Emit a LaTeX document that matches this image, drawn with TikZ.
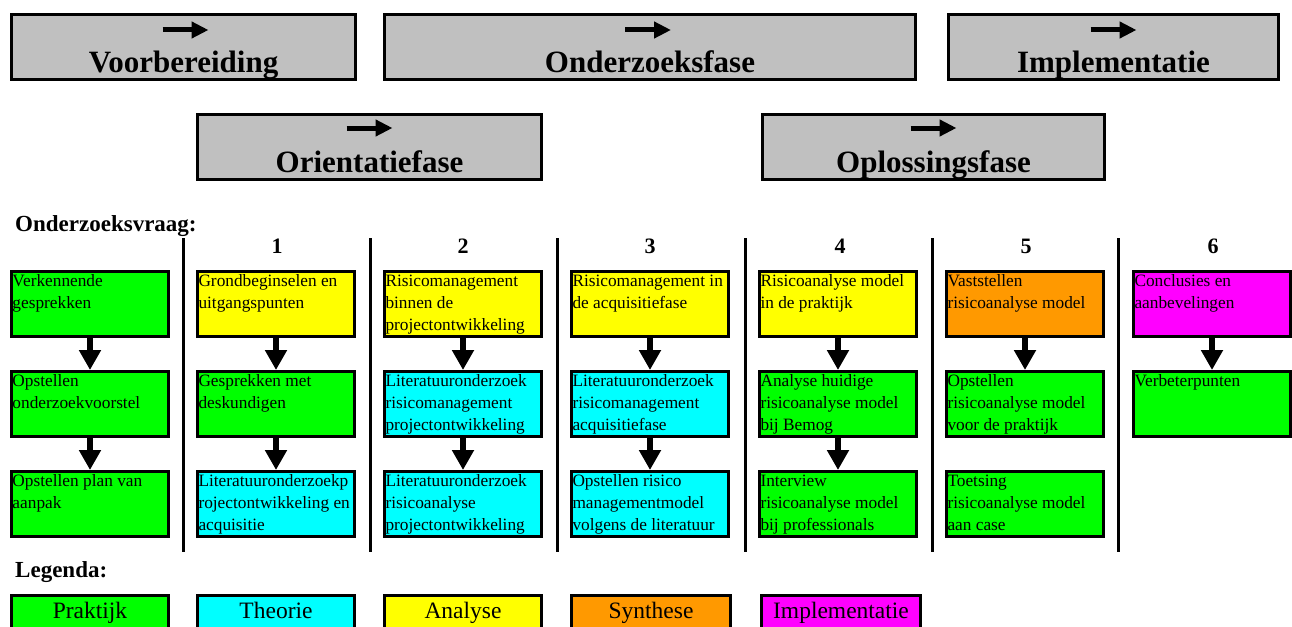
\documentclass[tikz,border=0pt]{standalone}
\usepackage{fontspec}
\setmainfont{Liberation Serif}
\usetikzlibrary{positioning,arrows.meta}

\definecolor{praktijk}{HTML}{00FF00}
\definecolor{theorie}{HTML}{00FFFF}
\definecolor{analyse}{HTML}{FFFF00}
\definecolor{synthese}{HTML}{FF9900}
\definecolor{implementatie}{HTML}{FF00FF}
\definecolor{fasegrijs}{HTML}{C0C0C0}

\newcommand{\celtekst}[1]{\parbox[t][62pt][t]{155pt}{\fontsize{17.3}{22}\selectfont\raggedright\rule{0pt}{13pt}#1}}

\begin{document}
\begin{tikzpicture}[x=1pt, y=-1pt,
  fase/.style = {draw, line width=3pt, fill=fasegrijs, inner sep=0pt, anchor=north west, minimum height=65pt, text height=55pt, text depth=5pt, font=\fontsize{31}{31}\selectfont\bfseries},
  cel/.style = {draw, line width=3pt, inner sep=0pt, anchor=north west, minimum width=157pt, minimum height=65pt},
  leg/.style = {draw, line width=3pt, inner sep=0pt, anchor=north west, minimum width=157pt, minimum height=34pt, text height=16pt, text depth=5pt, font=\fontsize{23.5}{23.5}\selectfont},
  kop/.style = {anchor=base west, inner sep=0pt, font=\fontsize{23}{23}\selectfont\bfseries},
  num/.style = {anchor=base, inner sep=0pt, font=\fontsize{22}{22}\selectfont\bfseries},
  pijl/.style = {line width=6pt, -{Triangle[width=21pt,length=20pt]}},
  fasepijl/.style = {line width=5pt, -{Triangle[width=16pt,length=17pt]}},
  scheiding/.style = {line width=3pt}]
\useasboundingbox (0,0) rectangle (1292,626);

% fasen
\node[fase, minimum width=344pt] (vb) at (10,13) {Voorbereiding};
\node[fase, minimum width=531pt] (oz) at (383,13) {Onderzoeksfase};
\node[fase, minimum width=330pt] (im) at (947,13) {Implementatie};
\node[fase, minimum width=344pt] (or) at (196,113) {Orientatiefase};
\node[fase, minimum width=342pt] (op) at (761,113) {Oplossingsfase};
\draw[fasepijl] ([xshift=-21pt,yshift=-17pt]vb.north) -- ([xshift=25pt,yshift=-17pt]vb.north);
\draw[fasepijl] ([xshift=-25pt,yshift=-17pt]oz.north) -- ([xshift=21pt,yshift=-17pt]oz.north);
\draw[fasepijl] ([xshift=-23pt,yshift=-17pt]im.north) -- ([xshift=23pt,yshift=-17pt]im.north);
\draw[fasepijl] ([xshift=-23pt,yshift=-15pt]or.north) -- ([xshift=23pt,yshift=-15pt]or.north);
\draw[fasepijl] ([xshift=-23pt,yshift=-15pt]op.north) -- ([xshift=23pt,yshift=-15pt]op.north);

% onderzoeksvragen
\node[kop] (vraag) at (15,231) {Onderzoeksvraag:};
\node[num] (n1) at (277,253) {1};
\node[num] (n2) at (463,253) {2};
\node[num] (n3) at (650,253) {3};
\node[num] (n4) at (840,253) {4};
\node[num] (n5) at (1026,253) {5};
\node[num] (n6) at (1213,253) {6};
\foreach \x in {183,370,557,745,932,1118}
  \draw[scheiding] (\x,238) -- (\x,552);

\node[cel, fill=praktijk] (a1) at (10,270) {\celtekst{Verkennende\\gesprekken}};
\node[cel, fill=praktijk, below=32pt of a1] (a2) {\celtekst{Opstellen\\onderzoekvoorstel}};
\node[cel, fill=praktijk, below=32pt of a2] (a3) {\celtekst{Opstellen plan van\\aanpak}};

\node[cel, fill=analyse] (b1) at (196,270) {\celtekst{Grondbeginselen en\\uitgangspunten}};
\node[cel, fill=praktijk, below=32pt of b1] (b2) {\celtekst{Gesprekken met\\deskundigen}};
\node[cel, fill=theorie, below=32pt of b2] (b3) {\celtekst{Literatuuronderzoekp\\rojectontwikkeling en\\acquisitie}};

\node[cel, fill=analyse] (c1) at (383,270) {\celtekst{Risicomanagement\\binnen de\\projectontwikkeling}};
\node[cel, fill=theorie, below=32pt of c1] (c2) {\celtekst{Literatuuronderzoek\\risicomanagement\\projectontwikkeling}};
\node[cel, fill=theorie, below=32pt of c2] (c3) {\celtekst{Literatuuronderzoek\\risicoanalyse\\projectontwikkeling}};

\node[cel, fill=analyse] (d1) at (570,270) {\celtekst{Risicomanagement in\\de acquisitiefase}};
\node[cel, fill=theorie, below=32pt of d1] (d2) {\celtekst{Literatuuronderzoek\\risicomanagement\\acquisitiefase}};
\node[cel, fill=theorie, below=32pt of d2] (d3) {\celtekst{Opstellen risico\\managementmodel\\volgens de literatuur}};

\node[cel, fill=analyse] (e1) at (758,270) {\celtekst{Risicoanalyse model\\in de praktijk}};
\node[cel, fill=praktijk, below=32pt of e1] (e2) {\celtekst{Analyse huidige\\risicoanalyse model\\bij Bemog}};
\node[cel, fill=praktijk, below=32pt of e2] (e3) {\celtekst{Interview\\risicoanalyse model\\bij professionals}};

\node[cel, fill=synthese] (f1) at (945,270) {\celtekst{Vaststellen\\risicoanalyse model}};
\node[cel, fill=praktijk, below=32pt of f1] (f2) {\celtekst{Opstellen\\risicoanalyse model\\voor de praktijk}};
\node[cel, fill=praktijk, below=32pt of f2] (f3) {\celtekst{Toetsing\\risicoanalyse model\\aan case}};

\node[cel, fill=implementatie] (g1) at (1132,270) {\celtekst{Conclusies en\\aanbevelingen}};
\node[cel, fill=praktijk, below=32pt of g1] (g2) {\celtekst{Verbeterpunten}};

\draw[pijl] (a1) -- (a2);
\draw[pijl] (a2) -- (a3);
\draw[pijl] (b1) -- (b2);
\draw[pijl] (b2) -- (b3);
\draw[pijl] (c1) -- (c2);
\draw[pijl] (c2) -- (c3);
\draw[pijl] (d1) -- (d2);
\draw[pijl] (d2) -- (d3);
\draw[pijl] (e1) -- (e2);
\draw[pijl] (e2) -- (e3);
\draw[pijl] (f1) -- (f2);
\draw[pijl] (g1) -- (g2);

% legenda
\node[kop] (legenda) at (15,577) {Legenda:};
\node[leg, fill=praktijk] (l1) at (10,594) {Praktijk};
\node[leg, fill=theorie] (l2) at (196,594) {Theorie};
\node[leg, fill=analyse] (l3) at (383,594) {Analyse};
\node[leg, fill=synthese, minimum width=159pt] (l4) at (570,594) {Synthese};
\node[leg, fill=implementatie, minimum width=159pt] (l5) at (760,594) {Implementatie};
\end{tikzpicture}
\end{document}
